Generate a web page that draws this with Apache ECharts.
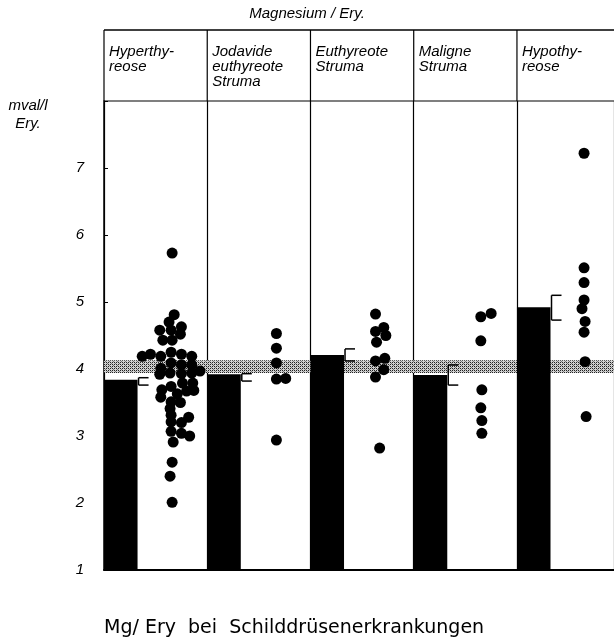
<!DOCTYPE html>
<html><head><meta charset="utf-8">
<script src="https://cdn.jsdelivr.net/npm/echarts@6/dist/echarts.min.js"></script>
<style>html,body{margin:0;padding:0;background:#fff;}#c{width:614px;height:644px;}</style>
</head><body><div id="c"></div>
<script>
// ---- data ----
const groups = ['Hyperthy-\nreose', 'Jodavide\neuthyreote\nStruma', 'Euthyreote\nStruma', 'Maligne\nStruma', 'Hypothy-\nreose'];
const means = [3.84, 3.92, 4.21, 3.91, 4.92];
const upperErr = [3.87, 3.93, 4.30, 4.06, 5.10];
const lowerErr = [3.76, 3.82, 4.12, 3.76, 4.73];
const normalRange = [3.94, 4.13];
const yTicks = [1, 2, 3, 4, 5, 6, 7];
// individual values: [position within panel (0..1), value]
const dotsHyper = [[0.66,5.73],[0.68,4.81],[0.63,4.70],[0.75,4.63],[0.54,4.58],[0.65,4.58],[0.74,4.52],[0.57,4.43],[0.66,4.43],
  [0.37,4.19],[0.45,4.22],[0.55,4.19],[0.65,4.25],[0.75,4.22],[0.85,4.19],
  [0.65,4.09],[0.75,4.06],[0.55,4.01],[0.85,4.06],[0.93,3.97],
  [0.54,3.92],[0.64,3.94],[0.75,3.93],[0.85,3.94],
  [0.76,3.79],[0.86,3.79],
  [0.56,3.69],[0.65,3.74],[0.71,3.63],[0.80,3.67],[0.87,3.68],
  [0.55,3.58],[0.65,3.51],[0.74,3.50],
  [0.64,3.41],[0.65,3.31],[0.82,3.28],
  [0.65,3.21],[0.75,3.20],
  [0.65,3.07],[0.75,3.04],[0.83,3.00],
  [0.67,2.91],[0.66,2.61],[0.64,2.40],[0.66,2.01]];
const dotsJodavide = [[0.67,4.53],[0.67,4.31],[0.67,4.09],[0.67,3.85],[0.76,3.86],[0.67,2.94]];
const dotsEuthyreot = [[0.63,4.82],[0.71,4.62],[0.63,4.56],[0.73,4.50],[0.64,4.40],[0.63,4.12],[0.72,4.16],[0.71,3.99],[0.63,3.88],[0.67,2.82]];
const dotsMaligne = [[0.65,4.78],[0.75,4.83],[0.65,4.42],[0.66,3.69],[0.65,3.42],[0.66,3.23],[0.66,3.04]];
const dotsHypo = [[0.65,7.22],[0.65,5.51],[0.65,5.29],[0.65,5.03],[0.63,4.90],[0.66,4.71],[0.65,4.55],[0.66,4.11],[0.67,3.29]];
const allDots = [dotsHyper, dotsJodavide, dotsEuthyreot, dotsMaligne, dotsHypo];
const titleText = 'Magnesium / Ery.';
const yName = 'mval/l\nEry.';
const caption = 'Mg/ Ery  bei  Schilddrüsenerkrankungen';

// ---- style ----
const ITAL = 'italic 15px "Liberation Sans"';
const BAR_FRAC = 0.325;
const X_MAX = 4.94;

const pat = document.createElement('canvas');
pat.width = 4; pat.height = 4;
(function(){
  const g = pat.getContext('2d');
  g.fillStyle = '#d0d0d0'; g.fillRect(0,0,4,4);
  g.fillStyle = '#222';
  g.fillRect(0,0,1,1); g.fillRect(2,2,1,1); g.fillRect(2,0,1,1); g.fillRect(0,2,1,1);
  g.fillStyle = '#777';
  g.fillRect(1,1,1,1); g.fillRect(3,3,1,1);
})();

const chart = echarts.init(document.getElementById('c'), null, {renderer: 'canvas'});

const scatterData = [];
allDots.forEach((arr, gi) => arr.forEach(d => scatterData.push([gi + d[0], d[1]])));
const barData = means.map((m, i) => [i, m]);
const errData = means.map((m, i) => [i, lowerErr[i], upperErr[i]]);

chart.setOption({
  animation: false,
  grid: {left: 104, top: 101, width: 510, height: 469, containLabel: false},
  xAxis: {
    type: 'value', min: 0, max: X_MAX, interval: 1,
    axisLine: {show: true, onZero: false, lineStyle: {color: '#000', width: 2}},
    axisTick: {show: false}, axisLabel: {show: false},
    splitLine: {show: true, lineStyle: {color: '#000', width: 1.2}}
  },
  yAxis: {
    type: 'value', min: 1, max: 8, interval: 1,
    axisLine: {show: true, lineStyle: {color: '#000', width: 1.5}},
    axisTick: {show: true, inside: true, length: 4, lineStyle: {color: '#000'}},
    axisLabel: {margin: 20, color: '#000', fontFamily: 'Liberation Sans', fontStyle: 'italic', fontSize: 15,
      formatter: v => (yTicks.indexOf(v) >= 0 ? String(v) : '')},
    splitLine: {show: false}
  },
  series: [
    {
      type: 'custom', z: 1, silent: true,
      data: [normalRange],
      renderItem: (params, api) => {
        const p1 = api.coord([0, api.value(1)]);
        const p2 = api.coord([X_MAX, api.value(0)]);
        return {type: 'rect', shape: {x: p1[0], y: p1[1], width: p2[0] - p1[0], height: p2[1] - p1[1]},
          style: {fill: {image: pat, repeat: 'repeat'}}};
      }
    },
    {
      type: 'custom', z: 3, silent: true,
      data: barData,
      renderItem: (params, api) => {
        const i = api.value(0);
        const p1 = api.coord([i, api.value(1)]);
        const p2 = api.coord([i + BAR_FRAC, 1]);
        return {type: 'rect', shape: {x: p1[0], y: p1[1], width: p2[0] - p1[0], height: p2[1] - p1[1]},
          style: {fill: '#000'}};
      }
    },
    {
      type: 'custom', z: 4, silent: true,
      data: errData,
      renderItem: (params, api) => {
        const i = api.value(0);
        const lo = api.coord([i + BAR_FRAC, api.value(1)]);
        const hi = api.coord([i + BAR_FRAC, api.value(2)]);
        const x = lo[0] + 1;
        const st = {stroke: '#000', lineWidth: 1.5};
        return {type: 'group', children: [
          {type: 'line', shape: {x1: x, y1: lo[1], x2: x, y2: hi[1]}, style: st},
          {type: 'line', shape: {x1: x, y1: lo[1], x2: x + 10, y2: lo[1]}, style: st},
          {type: 'line', shape: {x1: x, y1: hi[1], x2: x + 10, y2: hi[1]}, style: st}
        ]};
      }
    },
    {
      type: 'scatter', z: 5, symbol: 'circle', symbolSize: 11,
      itemStyle: {color: '#000', opacity: 1}, data: scatterData
    }
  ]
});

// header box, drawn from the axis scale
const gr = [];
const boxTop = 30;
const yTop = chart.convertToPixel({gridIndex: 0}, [0, 8])[1];
const xL = chart.convertToPixel({gridIndex: 0}, [0, 8])[0];
const xR = chart.convertToPixel({gridIndex: 0}, [X_MAX, 8])[0];
gr.push({type: 'line', shape: {x1: xL, y1: boxTop, x2: xR, y2: boxTop}, style: {stroke: '#000', lineWidth: 1.5}});
gr.push({type: 'line', shape: {x1: xL, y1: yTop, x2: xR, y2: yTop}, style: {stroke: '#000', lineWidth: 1.2}});
for (let i = 0; i < groups.length; i++) {
  const x = chart.convertToPixel({gridIndex: 0}, [i, 8])[0];
  gr.push({type: 'line', shape: {x1: x, y1: boxTop, x2: x, y2: yTop}, style: {stroke: '#000', lineWidth: 1.2}});
  gr.push({type: 'text', left: x + 5, top: boxTop + 14,
    style: {text: groups[i], font: ITAL, fill: '#000', lineHeight: 15}});
}
gr.push({type: 'text', left: 'center', top: 6, style: {text: titleText, font: 'italic 15px "Liberation Sans"', fill: '#000'}});
gr.push({type: 'text', x: 28, y: 97, style: {text: yName, font: ITAL, fill: '#000', lineHeight: 18, align: 'center'}});
gr.push({type: 'text', left: 104, top: 619, style: {text: caption, font: '19px "DejaVu Sans"', fill: '#000'}});
chart.setOption({graphic: gr});
</script>
</body></html>
